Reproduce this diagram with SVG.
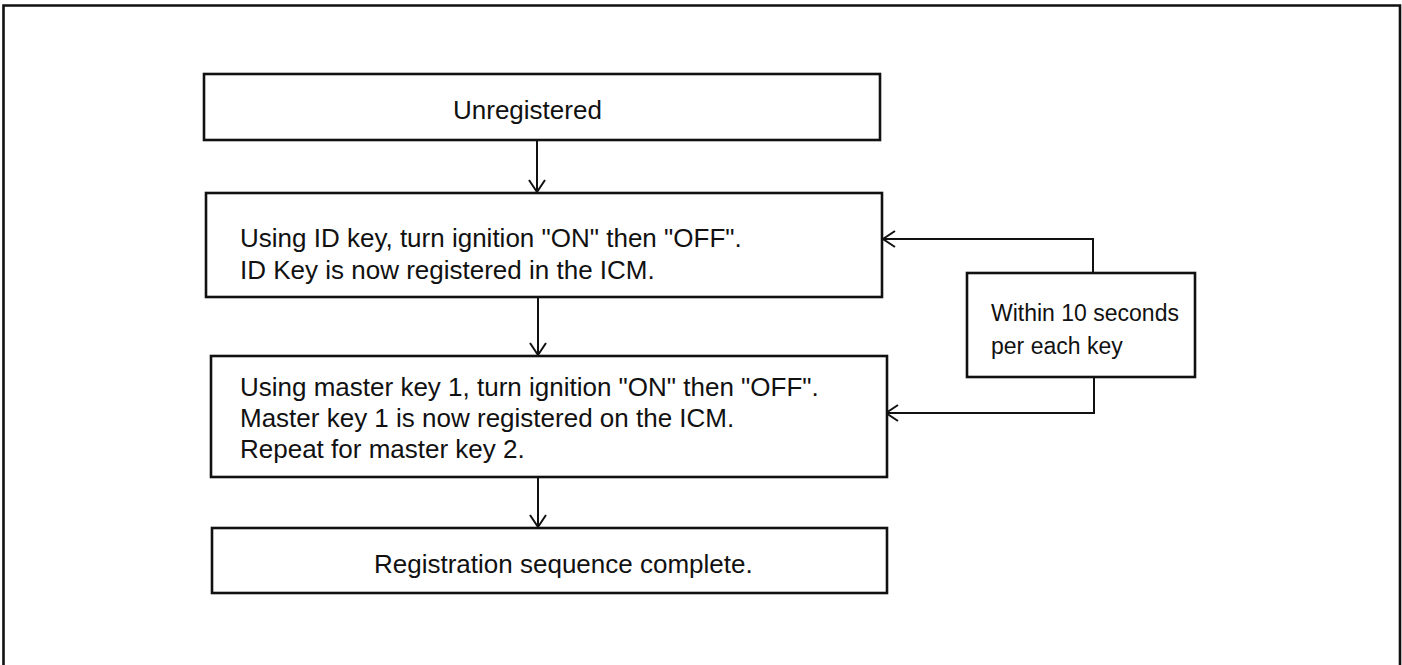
<svg xmlns="http://www.w3.org/2000/svg" width="1402" height="665" viewBox="0 0 1402 665">
<style>
.box{fill:#fff;stroke:#111;stroke-width:2.6}
.frame{fill:none;stroke:#111;stroke-width:2.6}
.conn{fill:none;stroke:#111;stroke-width:2}
.t{font-family:"Liberation Sans",Arial,Helvetica,sans-serif;font-size:26px;fill:#111}
.s{font-family:"Liberation Sans",Arial,Helvetica,sans-serif;font-size:23px;fill:#111}
</style>
<defs>
<marker id="arr" markerUnits="userSpaceOnUse" markerWidth="20" markerHeight="20" viewBox="-14 -10 16 20" refX="0" refY="0" orient="auto">
<path d="M-12,-8 L0,0 L-12,8" fill="none" stroke="#111" stroke-width="2"/>
</marker>
</defs>
<rect width="1402" height="665" fill="#fff"/>
<path class="frame" d="M3.5,670 V5.5 H1400 V670"/>
<g id="connectors">
<line class="conn" x1="537" y1="140" x2="537" y2="192" marker-end="url(#arr)"/>
<line class="conn" x1="538" y1="297" x2="538" y2="355" marker-end="url(#arr)"/>
<line class="conn" x1="538" y1="477" x2="538" y2="527" marker-end="url(#arr)"/>
<polyline class="conn" points="1093,272 1093,239 883,239" marker-end="url(#arr)"/>
<polyline class="conn" points="1094,377 1094,413 886,413" marker-end="url(#arr)"/>
</g>
<g id="unregistered">
<rect class="box" x="204" y="74" width="676" height="66"/>
<text class="t" x="453" y="119">Unregistered</text>
</g>
<g id="id-key">
<rect class="box" x="206" y="193" width="676" height="104"/>
<text class="t" x="240" y="247">Using ID key, turn ignition "ON" then "OFF".</text>
<text class="t" x="240" y="279">ID Key is now registered in the ICM.</text>
</g>
<g id="master-key">
<rect class="box" x="211" y="356" width="676" height="121"/>
<text class="t" x="240" y="396">Using master key 1, turn ignition "ON" then "OFF".</text>
<text class="t" x="240" y="427">Master key 1 is now registered on the ICM.</text>
<text class="t" x="240" y="458">Repeat for master key 2.</text>
</g>
<g id="complete">
<rect class="box" x="212" y="528" width="675" height="65"/>
<text class="t" x="374" y="573">Registration sequence complete.</text>
</g>
<g id="within">
<rect class="box" x="967" y="273" width="228" height="104"/>
<text class="s" x="991" y="321">Within 10 seconds</text>
<text class="s" x="991" y="354">per each key</text>
</g>
</svg>
